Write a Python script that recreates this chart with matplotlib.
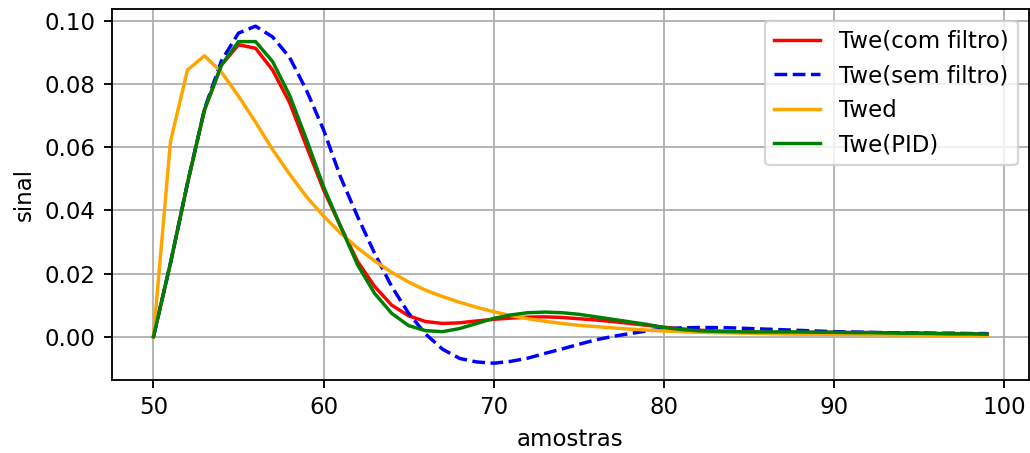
import matplotlib

matplotlib.use("Agg")
import matplotlib.pyplot as plt
import numpy as np

# amostras 50..99
amostras = np.arange(50, 100)

twe_com_filtro = [
    0.0, 0.0233, 0.0486, 0.0719, 0.0861, 0.0925, 0.0914, 0.0845, 0.0742, 0.0602,
    0.0465, 0.0349, 0.0238, 0.0159, 0.0100, 0.0066, 0.0048, 0.0042, 0.0044, 0.0050,
    0.0055, 0.0059, 0.0062, 0.0063, 0.0061, 0.0057, 0.0053, 0.0048, 0.0042, 0.0036,
    0.0030, 0.0025, 0.0021, 0.0018, 0.0016, 0.0015, 0.0014, 0.0014, 0.0014, 0.0014,
    0.0014, 0.0013, 0.0013, 0.0012, 0.0011, 0.0011, 0.0010, 0.0010, 0.0009, 0.0009,
]
twe_sem_filtro = [
    0.0, 0.0233, 0.0486, 0.0722, 0.0875, 0.0962, 0.0984, 0.0950, 0.0885, 0.0780,
    0.0655, 0.0505, 0.0380, 0.0264, 0.0159, 0.0074, 0.0008, -0.0040, -0.0069, -0.0080,
    -0.0084, -0.0078, -0.0068, -0.0053, -0.0039, -0.0024, -0.0010, 0.0001, 0.0010, 0.0018,
    0.0024, 0.0028, 0.0029, 0.0029, 0.0028, 0.0026, 0.0024, 0.0022, 0.0020, 0.0018,
    0.0016, 0.0015, 0.0014, 0.0013, 0.0012, 0.0012, 0.0011, 0.0011, 0.0010, 0.0010,
]
twed = [
    0.0, 0.0618, 0.0845, 0.0890, 0.0838, 0.0762, 0.0680, 0.0593, 0.0515, 0.0443,
    0.0382, 0.0328, 0.0281, 0.0240, 0.0204, 0.0173, 0.0147, 0.0127, 0.0109, 0.0093,
    0.0079, 0.0067, 0.0057, 0.0049, 0.0042, 0.0036, 0.0032, 0.0028, 0.0024, 0.0021,
    0.0018, 0.0016, 0.0014, 0.0013, 0.0012, 0.0011, 0.0010, 0.0009, 0.0008, 0.0008,
    0.0007, 0.0007, 0.0006, 0.0006, 0.0005, 0.0005, 0.0004, 0.0004, 0.0004, 0.0003,
]
twe_pid = [
    0.0, 0.0233, 0.0486, 0.0719, 0.0861, 0.0935, 0.0935, 0.0872, 0.0765, 0.0624,
    0.0475, 0.0349, 0.0227, 0.0137, 0.0074, 0.0035, 0.0019, 0.0016, 0.0026, 0.0042,
    0.0058, 0.0069, 0.0076, 0.0078, 0.0076, 0.0071, 0.0063, 0.0055, 0.0047, 0.0039,
    0.0029, 0.0023, 0.0019, 0.0017, 0.0016, 0.0015, 0.0015, 0.0015, 0.0015, 0.0014,
    0.0014, 0.0013, 0.0013, 0.0012, 0.0011, 0.0011, 0.0010, 0.0009, 0.0009, 0.0008,
]

DPI = 165
fig = plt.figure(figsize=(1030 / DPI, 453 / DPI), dpi=DPI)
ax = fig.add_axes([0.1085, 0.161, 0.8905, 0.8185])

ax.plot(amostras, twe_com_filtro, color="red", label="Twe(com filtro)")
ax.plot(amostras, twe_sem_filtro, color="blue", linestyle="--", label="Twe(sem filtro)")
ax.plot(amostras, twed, color="orange", label="Twed")
ax.plot(amostras, twe_pid, color="green", label="Twe(PID)")

ax.set_xlabel("amostras")
ax.set_ylabel("sinal")
ax.grid(True)
ax.legend(loc="upper right")

fig.savefig("out.png", dpi=DPI)
